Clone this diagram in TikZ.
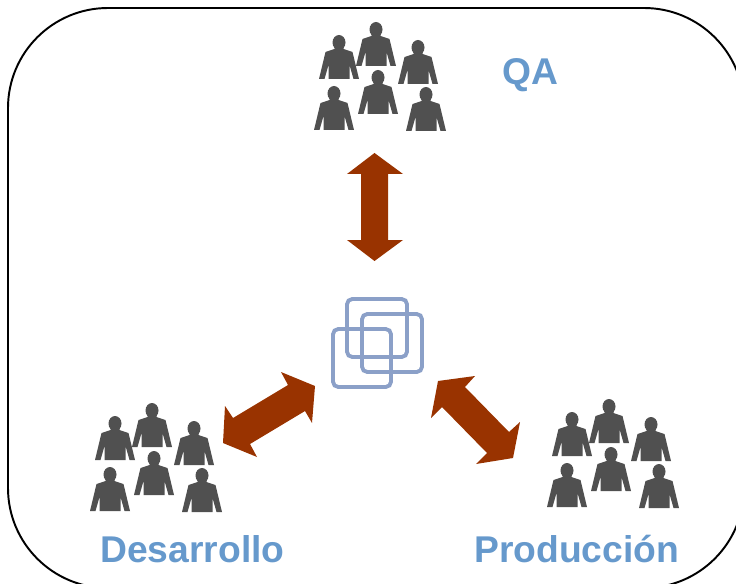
\documentclass[tikz,border=0pt]{standalone}
\usepackage{fontspec}
\setmainfont{Liberation Sans}
\definecolor{arrowbrown}{HTML}{993300}
\definecolor{hubblue}{HTML}{8BA0C8}
\definecolor{labelblue}{HTML}{6699CC}
\definecolor{persongray}{HTML}{505050}
\tikzset{
    person/.pic={
        \fill[persongray] (0, -36.5) ellipse (6.5 and 7.5);
        \fill[persongray] (-4.5, -33) -- (4.5, -33) -- (4.5, -30) -- (13.5, -27) -- (20, 0) -- (14.5, 0) -- (10.5, -14) -- (10.5, 0)
            -- (-10.5, 0) -- (-10.5, -14) -- (-14.5, 0) -- (-20, 0) -- (-13.5, -27) -- (-4.5, -30) -- cycle;
    },
    team/.pic={
        \foreach \dx/\dy in {-37/13, 0/0, 42/18, -42/64, 2/48, 50/65}
            \pic at (\dx, \dy) {person};
    },
    teamlabel/.style={anchor=base west, inner sep=0pt, text=labelblue, font=\fontsize{21.2pt}{25pt}\selectfont\bfseries},
    hubsquare/.style={draw=hubblue, line width=2.2pt, rounded corners=3pt, inner sep=0pt},
    linkarrow/.style={fill=arrowbrown}
}
\begin{document}
\begin{tikzpicture}[x=0.02cm, y=-0.02cm]
    \useasboundingbox (0, 0) rectangle (736, 584);

    % Outer frame
    \draw[line width=1.1pt, rounded corners=2cm] (8, 8) rectangle (744, 588);

    % Teams
    \pic at (376, 66) {team};
    \pic at (152, 447) {team};
    \pic at (609, 443) {team};

    % Labels
    \node[teamlabel] (qa) at (502, 85) {QA};
    \node[teamlabel] (desarrollo) at (100, 562) {Desarrollo};
    \node[teamlabel] (produccion) at (474, 562) {Producción};

    % Central hub
    \node[hubsquare, minimum width=1.2cm, minimum height=1.16cm] (hubback) at (377, 328) {};
    \node[hubsquare, minimum width=1.2cm, minimum height=1.16cm] (hubright) at (392, 343) {};
    \node[hubsquare, minimum width=1.16cm, minimum height=1.16cm] (hubleft) at (362, 358) {};

    % Double arrows
    \fill[linkarrow] (374.5, 153) -- (403, 174) -- (388, 174) -- (388, 240) -- (403, 240) -- (374.5, 261)
        -- (347, 240) -- (361, 240) -- (361, 174) -- (347, 174) -- cycle;
    \fill[linkarrow] (315, 386) -- (281, 372) -- (288, 385) -- (233, 418) -- (225, 406) -- (223, 443)
        -- (257, 457) -- (250, 444) -- (305, 411) -- (312, 423) -- cycle;
    \fill[linkarrow] (438, 381) -- (475, 376) -- (465, 387) -- (509, 432) -- (520, 422) -- (513, 458)
        -- (476, 464) -- (487, 453) -- (442, 407) -- (431, 418) -- cycle;
\end{tikzpicture}
\end{document}
